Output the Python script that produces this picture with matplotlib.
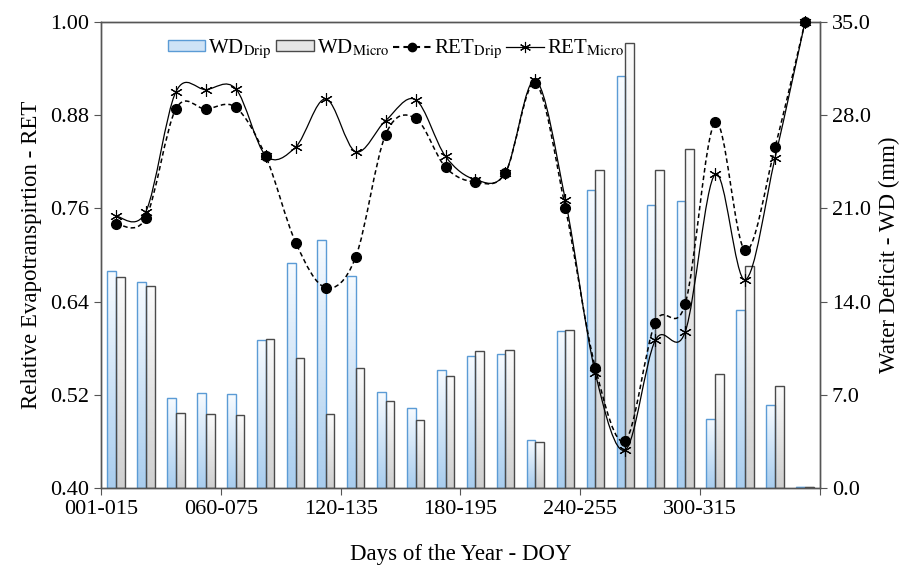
import numpy as np
import matplotlib.pyplot as plt
from matplotlib.path import Path
from matplotlib.patches import PathPatch, Rectangle, Patch
from matplotlib.lines import Line2D
from matplotlib.colors import LinearSegmentedColormap

plt.rcParams['font.family'] = 'Liberation Serif'
plt.rcParams['mathtext.fontset'] = 'stix'

# 15-day periods (24 of them), labels shown every 4 periods
periods = np.arange(24)
tick_labels = ['001-015', '060-075', '120-135', '180-195', '240-255', '300-315', '']

# relative evapotranspiration
ret_drip = [0.740, 0.748, 0.888, 0.888, 0.890, 0.827, 0.716, 0.658, 0.697, 0.855,
            0.876, 0.813, 0.794, 0.806, 0.921, 0.761, 0.555, 0.461, 0.613, 0.637,
            0.871, 0.706, 0.839, 1.000]
ret_micro = [0.750, 0.756, 0.910, 0.913, 0.914, 0.828, 0.839, 0.901, 0.833, 0.873,
             0.900, 0.827, 0.797, 0.806, 0.925, 0.771, 0.548, 0.449, 0.590, 0.601,
             0.804, 0.668, 0.825, 1.000]

# water deficit (mm)
wd_drip = [16.30, 15.50, 6.78, 7.11, 7.04, 11.09, 16.92, 18.65, 15.92, 7.21,
           6.01, 8.86, 9.94, 10.04, 3.58, 11.81, 22.41, 30.94, 21.28, 21.53,
           5.21, 13.39, 6.26, 0.08]
wd_micro = [15.82, 15.15, 5.66, 5.56, 5.48, 11.22, 9.79, 5.56, 8.99, 6.51,
            5.08, 8.44, 10.27, 10.39, 3.45, 11.84, 23.86, 33.40, 23.91, 25.48,
            8.54, 16.67, 7.66, 0.08]


def smooth_path(x, y):
    # Catmull-Rom curve through the points, drawn as cubic Bezier segments
    x = np.asarray(x, float)
    y = np.asarray(y, float)
    pts = np.column_stack([x, y])
    ext = np.vstack([pts[0], pts, pts[-1]])
    verts = [pts[0]]
    codes = [Path.MOVETO]
    for i in range(len(pts) - 1):
        p0, p1, p2, p3 = ext[i], ext[i + 1], ext[i + 2], ext[i + 3]
        verts += [p1 + (p2 - p0) / 6, p2 - (p3 - p1) / 6, p2]
        codes += [Path.CURVE4] * 3
    return Path(verts, codes)


fig = plt.figure(figsize=(9.03, 5.69), dpi=100)
ax = fig.add_axes([0.1118, 0.1424, 0.7963, 0.8189])
ax2 = ax.twinx()

bw = 0.29
blue_cmap = LinearSegmentedColormap.from_list('b', ['#f7fbff', '#a9cdee'])
gray_cmap = LinearSegmentedColormap.from_list('g', ['#fbfbfb', '#cfcfcf'])
grad = np.linspace(0, 1, 64).reshape(-1, 1)

for i in periods:
    for vals, off, cmap, ec in [(wd_drip, -bw / 2, blue_cmap, '#5b9bd5'),
                                (wd_micro, bw / 2, gray_cmap, '#4a4a4a')]:
        h = vals[i]
        x0 = i + off - bw / 2
        ax2.imshow(grad, extent=[x0, x0 + bw, 0, h], aspect='auto', cmap=cmap,
                   origin='upper', zorder=1)
        ax2.add_patch(Rectangle((x0, 0), bw, h, facecolor='none', edgecolor=ec,
                                linewidth=1.0, zorder=2))

ax2.set_ylim(0, 35)
ax2.set_yticks(np.arange(0, 35.1, 7))
ax2.set_yticklabels([f'{v:.1f}' for v in np.arange(0, 35.1, 7)])
ax2.set_ylabel('Water Deficit - WD (mm)', fontsize=16.5, labelpad=6)

# lines on top of bars
ax.set_zorder(ax2.get_zorder() + 1)
ax.patch.set_visible(False)

ax.add_patch(PathPatch(smooth_path(periods, ret_drip), facecolor='none',
                       edgecolor='black', linestyle=(0, (3, 2)), linewidth=1.1))
ax.add_patch(PathPatch(smooth_path(periods, ret_micro), facecolor='none',
                       edgecolor='black', linestyle='-', linewidth=0.9))
ax.plot(periods, ret_drip, 'o', color='black', markersize=7, clip_on=False, zorder=4)
ax.plot(periods, ret_micro, linestyle='none', marker=(6, 2, 0), color='black',
        markersize=9, markeredgewidth=0.8, clip_on=False, zorder=4)

ax.set_xlim(-0.5, 23.5)
ax.set_ylim(0.40, 1.00)
ax.set_yticks(np.arange(0.40, 1.001, 0.12))
ax.set_yticklabels([f'{v:.2f}' for v in np.arange(0.40, 1.001, 0.12)])
ax.set_xticks(np.arange(-0.5, 24, 4))
ax.set_xticklabels(tick_labels)
ax.set_ylabel('Relative Evapotranspirtion - RET', fontsize=16.5, labelpad=6)
ax.set_xlabel('Days of the Year - DOY', fontsize=16.5, labelpad=18)

for a in (ax, ax2):
    a.tick_params(labelsize=16, direction='out', length=5, color='#555555')
    for s in a.spines.values():
        s.set_color('#555555')
        s.set_linewidth(1.0)

handles = [
    Patch(facecolor='#cfe3f6', edgecolor='#5b9bd5'),
    Patch(facecolor='#e6e6e6', edgecolor='#4a4a4a'),
    Line2D([], [], color='black', linestyle=(0, (3, 2)), marker='o', markersize=6),
    Line2D([], [], color='black', linestyle='-', marker=(6, 2, 0), markersize=8,
           linewidth=0.9, markeredgewidth=0.8),
]
labels = [r'WD$_{\mathrm{Drip}}$', r'WD$_{\mathrm{Micro}}$',
          r'RET$_{\mathrm{Drip}}$', r'RET$_{\mathrm{Micro}}$']
ax.legend(handles, labels, loc='center', bbox_to_anchor=(0.41, 0.942), ncol=4,
          frameon=False, fontsize=15, handlelength=1.8, handleheight=0.45,
          handletextpad=0.15, columnspacing=0.2, borderpad=0.2)

fig.savefig('out.png', dpi=100)
